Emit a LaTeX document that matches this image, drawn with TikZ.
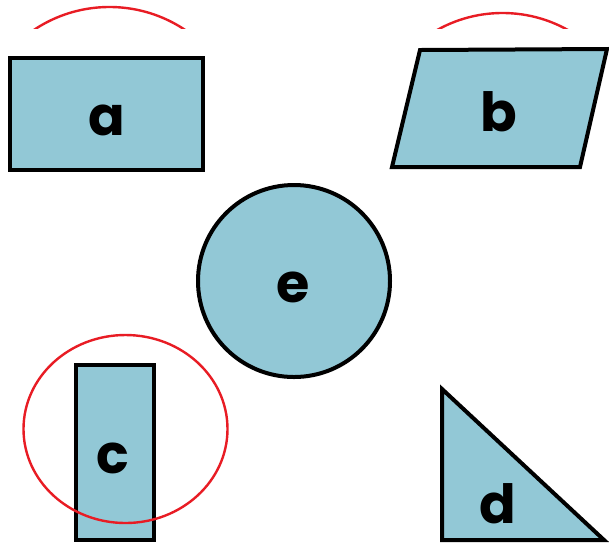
\documentclass[tikz,border=0pt]{standalone}
\usepackage{fontspec}
\setmainfont{Poppins}
\usetikzlibrary{positioning}
\definecolor{shapeblue}{RGB}{146,200,214}
\definecolor{markred}{RGB}{232,28,36}
\begin{document}
\begin{tikzpicture}[
          x=0.5pt, y=-0.5pt,
          figure/.style={draw=black, fill=shapeblue, line width=2pt, line join=miter},
          redline/.style={draw=markred, line width=1.2pt},
          lbl/.style={font=\fontsize{27}{27}\selectfont\bfseries, inner sep=0pt}
        ]
        \useasboundingbox (0,0) rectangle (609,543);
        % shapes
        \path[figure] (10,58) rectangle (203,170);
        \path[figure] (420,50) -- (607,49) -- (580,167) -- (392,167) -- cycle;
        \path[figure] (294,281) circle (96);
        \path[figure] (76,365) rectangle (154,540);
        \path[figure] (442,389) -- (604,540) -- (442,540) -- cycle;
        % labels
        \node[lbl] (a) at (107,120) {a};
        \node[lbl] (b) at (499,112) {b};
        \node[lbl] (e) at (293,287) {e};
        \node[lbl] (c) at (113,458) {c};
        \node[lbl] (d) at (498,504) {d};
        % red marks
        \begin{scope}
          \clip (0,0) rectangle (609,28);
          \draw[redline] (109.5,143) circle (136);
          \draw[redline] (502.5,147) circle (134);
        \end{scope}
        \draw[redline] (125.5,429) ellipse (102 and 94);
      \end{tikzpicture}
\end{document}
